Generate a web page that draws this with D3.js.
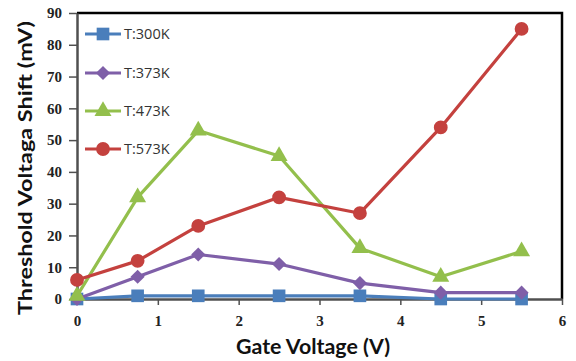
<!DOCTYPE html>
<html>
<head>
<meta charset="utf-8">
<script src="https://cdn.jsdelivr.net/npm/d3@7"></script>
<style>
  html, body { margin: 0; padding: 0; background: #fff; }
  svg { display: block; }
</style>
</head>
<body>
<svg id="chart" width="576" height="361"></svg>
<script>
// Gate voltage sweep points (V)
const gateVoltage = [0, 0.75, 1.5, 2.5, 3.5, 4.5, 5.5];

// Threshold voltage shift (mV) per temperature
const shift300K = [0, 1, 1, 1, 1, 0, 0];
const shift373K = [0, 7, 14, 11, 5, 2, 2];
const shift473K = [1, 32, 53, 45, 16, 7, 15];
const shift573K = [6, 12, 23, 32, 27, 54, 85];

const seriesNames = ["T:300K", "T:373K", "T:473K", "T:573K"];
const xTicks = [0, 1, 2, 3, 4, 5, 6];
const yTicks = [0, 10, 20, 30, 40, 50, 60, 70, 80, 90];

const series = [
  { name: seriesNames[0], values: shift300K, color: "#4a7ebb", shape: "square" },
  { name: seriesNames[1], values: shift373K, color: "#7f5fa8", shape: "diamond" },
  { name: seriesNames[2], values: shift473K, color: "#93bf4c", shape: "triangle" },
  { name: seriesNames[3], values: shift573K, color: "#c4413e", shape: "circle" }
];

const svg = d3.select("#chart");
const plot = { left: 77, right: 562, top: 13, bottom: 299 };

const x = d3.scaleLinear().domain([0, 6]).range([plot.left, plot.right]);
const y = d3.scaleLinear().domain([0, 90]).range([plot.bottom, plot.top]);

// frame: black on top/right
svg.append("path")
  .attr("d", `M${plot.left},${plot.top}H${plot.right}V${plot.bottom}`)
  .attr("fill", "none").attr("stroke", "#000").attr("stroke-width", 2.5);

// axes
const tickFont = "'Liberation Serif', 'Times New Roman', serif";
const yAxis = svg.append("g").attr("transform", `translate(${plot.left},0)`)
  .call(d3.axisLeft(y).tickValues(yTicks).tickFormat(d3.format("d"))
    .tickSize(8).tickPadding(7).tickSizeOuter(0));
const xAxis = svg.append("g").attr("transform", `translate(0,${plot.bottom})`)
  .call(d3.axisBottom(x).tickValues(xTicks).tickFormat(d3.format("d"))
    .tickSize(6).tickPadding(10).tickSizeOuter(0));

[yAxis, xAxis].forEach(g => {
  g.select(".domain").attr("stroke", "#505050").attr("stroke-width", 2.5);
  g.selectAll(".tick line").attr("stroke", "#505050").attr("stroke-width", 1.5);
  g.selectAll(".tick text")
    .attr("fill", "#222")
    .style("font-family", tickFont)
    .style("font-weight", "bold")
    .style("font-size", "15px");
});

// marker symbols (diamond = square turned 45°)
const symbolFor = {
  square: { path: d3.symbol().type(d3.symbolSquare).size(160)(), rotate: 0 },
  diamond: { path: d3.symbol().type(d3.symbolSquare).size(100)(), rotate: 45 },
  triangle: { path: d3.symbol().type(d3.symbolTriangle).size(125)(), rotate: 0 },
  circle: { path: d3.symbol().type(d3.symbolCircle).size(150)(), rotate: 0 }
};

const line = d3.line()
  .x((d, i) => x(gateVoltage[i]))
  .y(d => y(d));

series.forEach(s => {
  const g = svg.append("g");
  const sym = symbolFor[s.shape];
  g.append("path")
    .datum(s.values)
    .attr("d", line)
    .attr("fill", "none")
    .attr("stroke", s.color)
    .attr("stroke-width", 3.2)
    .attr("stroke-linejoin", "round");
  g.selectAll("path.marker")
    .data(s.values)
    .join("path")
    .attr("class", "marker")
    .attr("d", sym.path)
    .attr("transform", (d, i) => `translate(${x(gateVoltage[i])},${y(d)}) rotate(${sym.rotate})`)
    .attr("fill", s.color);
});

// legend
const legendRows = [34, 73, 111, 149];
const legend = svg.append("g");
series.forEach((s, i) => {
  const ly = legendRows[i];
  const sym = symbolFor[s.shape];
  legend.append("line")
    .attr("x1", 85).attr("x2", 121).attr("y1", ly).attr("y2", ly)
    .attr("stroke", s.color).attr("stroke-width", 3.2);
  legend.append("path")
    .attr("d", sym.path)
    .attr("transform", `translate(103,${ly}) rotate(${sym.rotate})`)
    .attr("fill", s.color);
  legend.append("text")
    .attr("x", 124).attr("y", ly + 5)
    .attr("fill", "#333")
    .style("font-family", "'Open Sans', 'Liberation Sans', sans-serif")
    .style("font-size", "14.5px")
    .text(s.name);
});

// axis titles
const titleFont = "Lato, 'Open Sans', sans-serif";
svg.append("text")
  .attr("transform", "translate(32,168) rotate(-90)")
  .attr("text-anchor", "middle")
  .attr("fill", "#111")
  .style("font-family", titleFont)
  .style("font-weight", "bold")
  .style("font-size", "19px")
  .attr("textLength", 294)
  .attr("lengthAdjust", "spacingAndGlyphs")
  .text("Threshold Voltaga Shift (mV)");

svg.append("text")
  .attr("x", 313).attr("y", 354)
  .attr("text-anchor", "middle")
  .attr("fill", "#111")
  .style("font-family", titleFont)
  .style("font-weight", "bold")
  .style("font-size", "20px")
  .attr("textLength", 154)
  .attr("lengthAdjust", "spacingAndGlyphs")
  .text("Gate Voltage (V)");
</script>
</body>
</html>
